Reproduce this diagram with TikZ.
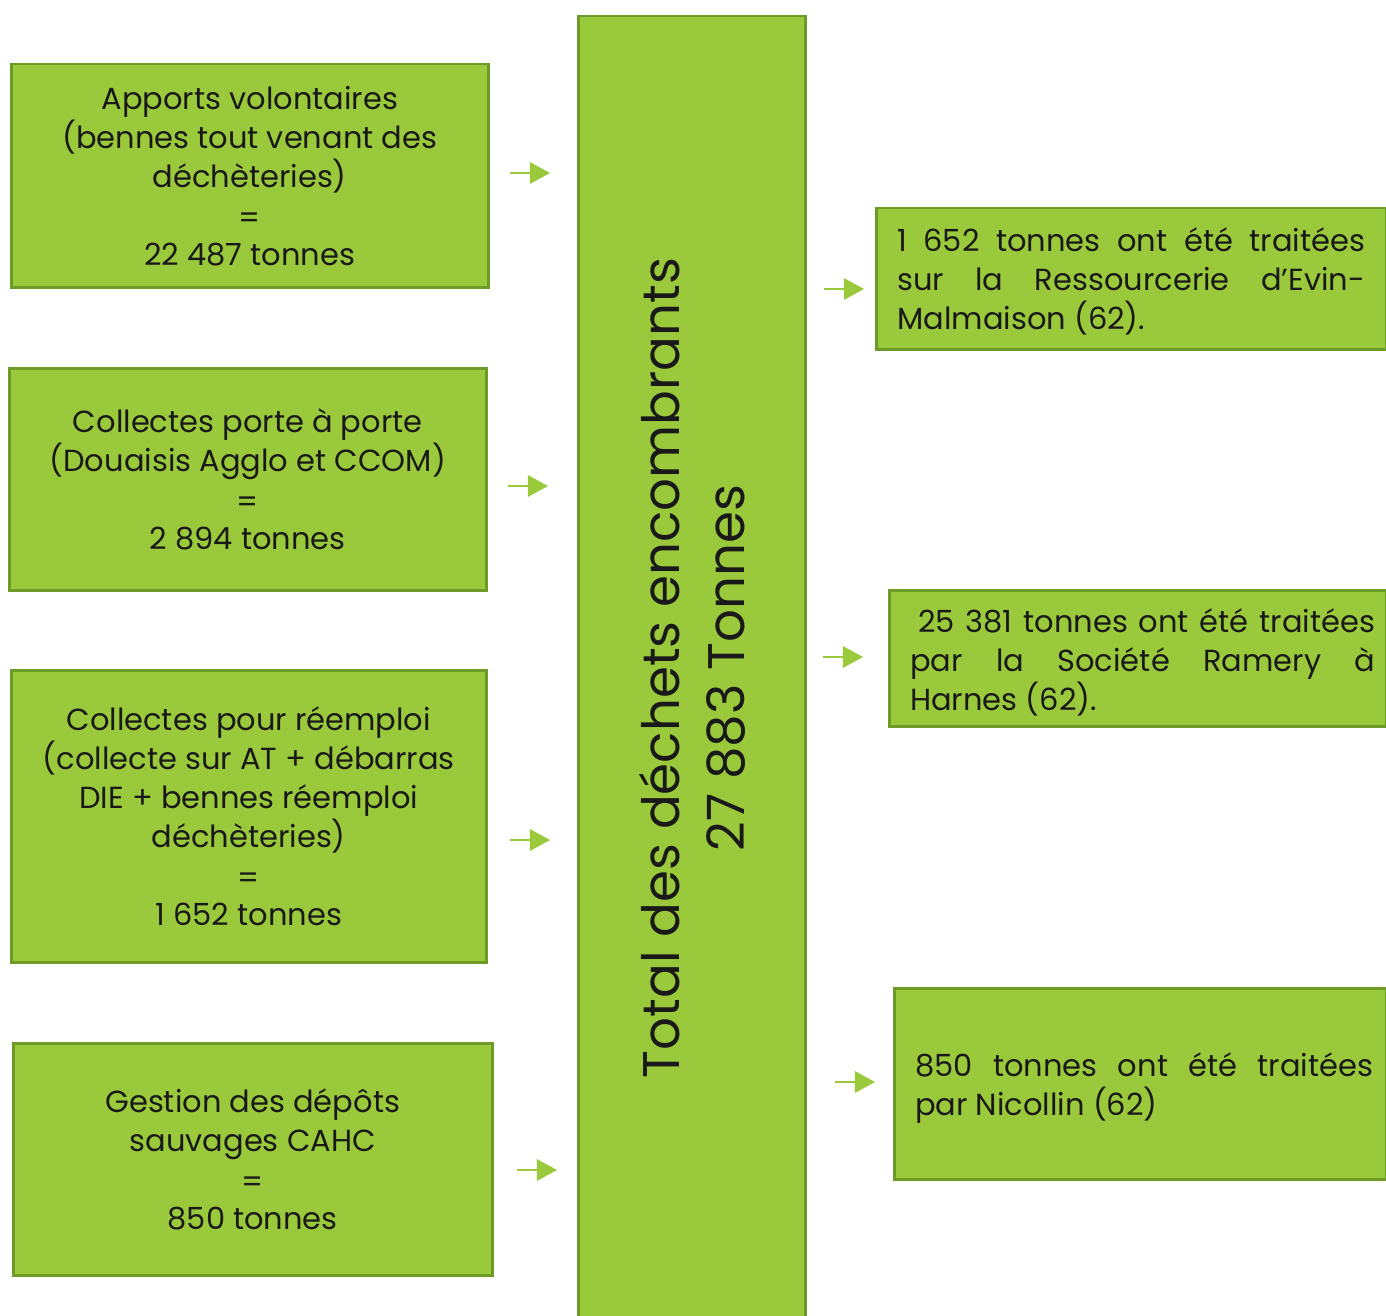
\documentclass[tikz,border=0pt]{standalone}
\usepackage{fontspec}
\setmainfont{Poppins}
\usetikzlibrary{arrows.meta}
\definecolor{boxfill}{HTML}{9ACA3C}
\definecolor{boxline}{HTML}{6E9A28}
\definecolor{arrowc}{HTML}{9ACA3C}
\tikzset{
  box/.style={draw=boxline, fill=boxfill, line width=2.5pt, rectangle, anchor=north west, inner sep=0pt},
  ltxt/.style={align=center, font=\fontsize{30.5}{39}\selectfont, text=black!90, inner sep=0pt},
  rtxt/.style={align=justify, font=\fontsize{30.5}{39}\selectfont, text=black!90, inner sep=0pt, anchor=west},
  arr/.style={draw=arrowc, line width=2pt, -{Triangle[length=15pt,width=16pt,scale=1.35]}},
}
\begin{document}
\begin{tikzpicture}[x=1pt,y=-1pt]
\useasboundingbox (0,0) rectangle (1386,1316);
% left boxes
\node[box, minimum width=477pt, minimum height=223pt] (l1) at (10,63) {};
\node[box, minimum width=477pt, minimum height=222pt] (l2) at (8,367) {};
\node[box, minimum width=475pt, minimum height=292pt] (l3) at (10,669) {};
\node[box, minimum width=479pt, minimum height=232pt] (l4) at (12,1042) {};
% center
\node[box, minimum width=227pt, minimum height=1310pt] (c) at (577,15) {};
% right boxes
\node[box, minimum width=510pt, minimum height=141pt] (r1) at (875,207) {};
\node[box, minimum width=497pt, minimum height=136pt] (r2) at (888,589) {};
\node[box, minimum width=492pt, minimum height=191pt] (r3) at (893,987) {};
% texts
\node[ltxt] (t1) at (l1.center) {Apports volontaires\\(bennes tout venant des\\déchèteries)\\[2pt]=\\[-2pt]22 487 tonnes};
\node[ltxt] (t2) at (l2.center) {Collectes porte à porte\\(Douaisis Agglo et CCOM)\\[2pt]=\\[-2pt]2 894 tonnes};
\node[ltxt] (t3) at (l3.center) {Collectes pour réemploi\\(collecte sur AT + débarras\\DIE + bennes réemploi\\déchèteries)\\[2pt]=\\[-2pt]1 652 tonnes};
\node[ltxt] (t4) at (l4.center) {Gestion des dépôts\\sauvages CAHC\\[2pt]=\\[-2pt]850 tonnes};
\node[rotate=90, align=center, font=\fontsize{51.5}{65}\selectfont, text=black!90, inner sep=0pt] (tc) at (692,668) {Total des déchets encombrants\\27 883 Tonnes};
\node[rtxt, text width=468pt] (s1) at ([xshift=22pt,yshift=-3pt]r1.west) {1 652 tonnes ont été traitées\linebreak sur la Ressourcerie d’Evin-\linebreak Malmaison (62).};
\node[rtxt, text width=465pt] (s2) at ([xshift=22pt,yshift=-4pt]r2.west) {\hspace*{8pt}25 381 tonnes ont été traitées\linebreak par la Société Ramery à\linebreak Harnes (62).};
\node[rtxt, text width=458pt] (s3) at ([xshift=22pt,yshift=-4pt]r3.west) {850 tonnes ont été traitées\linebreak par Nicollin (62)};
% arrows
\coordinate (a1s) at (510,173); \coordinate (a1e) at (550,173);
\coordinate (a2s) at (508,486); \coordinate (a2e) at (548,486);
\coordinate (a3s) at (510,840); \coordinate (a3e) at (550,840);
\coordinate (a4s) at (517,1170); \coordinate (a4e) at (557,1170);
\coordinate (b1s) at (824,289); \coordinate (b1e) at (864,289);
\coordinate (b2s) at (823,657); \coordinate (b2e) at (863,657);
\coordinate (b3s) at (835,1082); \coordinate (b3e) at (875,1082);
\foreach \s/\e in {a1s/a1e,a2s/a2e,a3s/a3e,a4s/a4e,b1s/b1e,b2s/b2e,b3s/b3e}
  \draw[arr] (\s) -- (\e);
\end{tikzpicture}
\end{document}
